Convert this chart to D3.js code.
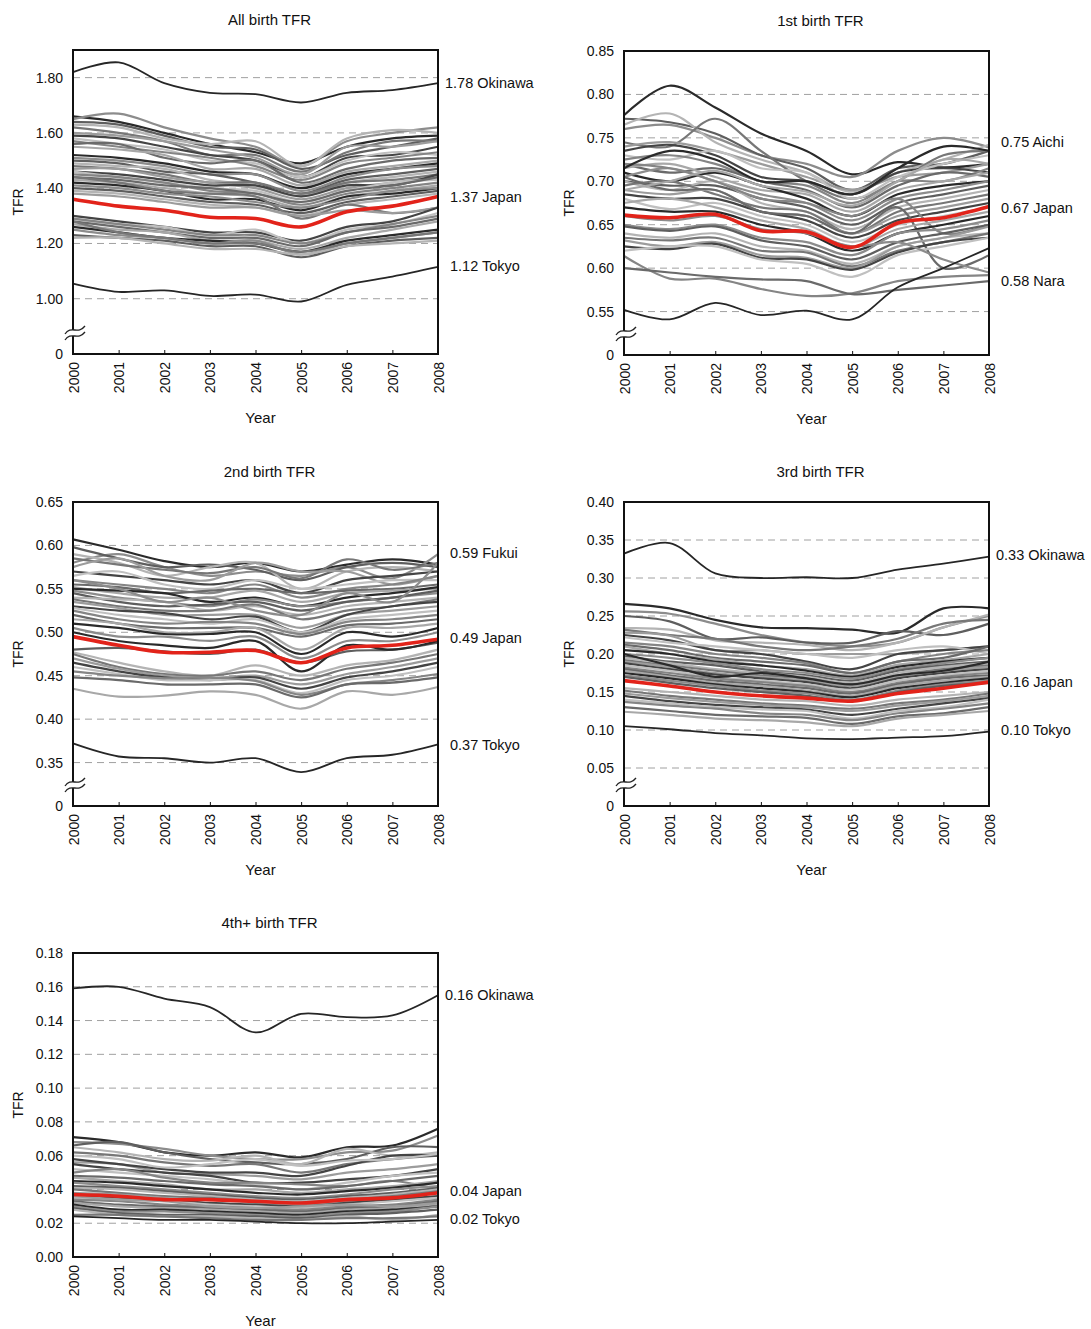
<!DOCTYPE html>
<html>
<head>
<meta charset="utf-8">
<script src="https://cdnjs.cloudflare.com/ajax/libs/d3/7.8.5/d3.min.js"></script>
<style>
body { margin: 0; background: #fff; }
text { font-family: "Liberation Sans", Arial, sans-serif; fill: #111; }
</style>
</head>
<body>
<div id="canvas"></div>
<script>
//Global var.
var width = 1091;
var height = 1329;
var years = [2000, 2001, 2002, 2003, 2004, 2005, 2006, 2007, 2008];

//All birth TFR
var allTitle = "All birth TFR";
var allTicks = [0.8, 1.0, 1.2, 1.4, 1.6, 1.8];
var allTickLabels = ["0", "1.00", "1.20", "1.40", "1.60", "1.80"];
var allJapan = [1.36, 1.335, 1.32, 1.295, 1.29, 1.26, 1.315, 1.335, 1.37];
var allMarked = [
    [1.82, 1.855, 1.78, 1.745, 1.74, 1.71, 1.745, 1.755, 1.78],   // Okinawa
    [1.055, 1.025, 1.03, 1.01, 1.015, 0.99, 1.05, 1.08, 1.115]    // Tokyo
];
var allLabels = ["1.78 Okinawa", "1.37 Japan", "1.12 Tokyo"];
var allLabelAt = [1.78, 1.37, 1.12];
var allPref = [
    [1.66, 1.64, 1.60, 1.56, 1.53, 1.49, 1.55, 1.58, 1.59],
    [1.65, 1.67, 1.62, 1.58, 1.55, 1.48, 1.57, 1.60, 1.62],
    [1.64, 1.63, 1.59, 1.55, 1.54, 1.47, 1.52, 1.55, 1.58],
    [1.63, 1.62, 1.58, 1.56, 1.57, 1.48, 1.58, 1.61, 1.60],
    [1.62, 1.60, 1.57, 1.52, 1.52, 1.46, 1.53, 1.57, 1.57],
    [1.60, 1.59, 1.57, 1.54, 1.51, 1.45, 1.55, 1.55, 1.57],
    [1.59, 1.58, 1.55, 1.52, 1.50, 1.44, 1.51, 1.52, 1.55],
    [1.58, 1.56, 1.54, 1.50, 1.49, 1.44, 1.50, 1.53, 1.52],
    [1.57, 1.55, 1.53, 1.51, 1.48, 1.43, 1.49, 1.51, 1.53],
    [1.56, 1.56, 1.51, 1.49, 1.50, 1.42, 1.47, 1.50, 1.51],
    [1.55, 1.54, 1.52, 1.47, 1.47, 1.41, 1.46, 1.48, 1.50],
    [1.52, 1.51, 1.49, 1.46, 1.45, 1.40, 1.45, 1.47, 1.49],
    [1.51, 1.50, 1.48, 1.45, 1.45, 1.39, 1.44, 1.47, 1.48],
    [1.50, 1.49, 1.46, 1.45, 1.42, 1.38, 1.43, 1.45, 1.47],
    [1.49, 1.48, 1.47, 1.43, 1.41, 1.37, 1.42, 1.44, 1.46],
    [1.48, 1.47, 1.45, 1.42, 1.42, 1.38, 1.42, 1.43, 1.45],
    [1.47, 1.47, 1.44, 1.42, 1.40, 1.36, 1.40, 1.42, 1.44],
    [1.46, 1.45, 1.43, 1.41, 1.41, 1.37, 1.41, 1.41, 1.45],
    [1.46, 1.44, 1.42, 1.40, 1.39, 1.35, 1.39, 1.42, 1.43],
    [1.45, 1.44, 1.42, 1.39, 1.38, 1.34, 1.38, 1.40, 1.42],
    [1.44, 1.43, 1.41, 1.40, 1.38, 1.35, 1.39, 1.41, 1.44],
    [1.43, 1.42, 1.40, 1.38, 1.37, 1.33, 1.37, 1.39, 1.41],
    [1.42, 1.41, 1.39, 1.36, 1.36, 1.32, 1.37, 1.38, 1.40],
    [1.41, 1.40, 1.38, 1.37, 1.35, 1.33, 1.36, 1.39, 1.40],
    [1.40, 1.39, 1.37, 1.35, 1.34, 1.31, 1.35, 1.37, 1.39],
    [1.39, 1.38, 1.36, 1.34, 1.33, 1.30, 1.34, 1.36, 1.38],
    [1.44, 1.42, 1.39, 1.38, 1.37, 1.29, 1.34, 1.31, 1.33],
    [1.38, 1.37, 1.35, 1.33, 1.33, 1.30, 1.32, 1.31, 1.33],
    [1.30, 1.28, 1.26, 1.24, 1.24, 1.21, 1.26, 1.28, 1.33],
    [1.29, 1.27, 1.26, 1.23, 1.25, 1.20, 1.25, 1.27, 1.31],
    [1.29, 1.27, 1.25, 1.23, 1.23, 1.20, 1.24, 1.27, 1.30],
    [1.28, 1.26, 1.24, 1.22, 1.22, 1.19, 1.24, 1.26, 1.29],
    [1.27, 1.25, 1.24, 1.21, 1.21, 1.18, 1.22, 1.25, 1.28],
    [1.26, 1.24, 1.22, 1.21, 1.20, 1.17, 1.21, 1.23, 1.25],
    [1.25, 1.23, 1.22, 1.20, 1.21, 1.16, 1.20, 1.22, 1.24],
    [1.23, 1.22, 1.21, 1.19, 1.19, 1.15, 1.19, 1.21, 1.22],
    [1.22, 1.22, 1.20, 1.18, 1.18, 1.16, 1.19, 1.20, 1.21],
    [1.28, 1.24, 1.22, 1.20, 1.20, 1.17, 1.20, 1.22, 1.24]
];

//1st birth TFR
var firstTitle = "1st birth TFR";
var firstTicks = [0.50, 0.55, 0.60, 0.65, 0.70, 0.75, 0.80, 0.85];
var firstTickLabels = ["0", "0.55", "0.60", "0.65", "0.70", "0.75", "0.80", "0.85"];
var firstJapan = [0.661, 0.658, 0.662, 0.643, 0.642, 0.624, 0.652, 0.658, 0.671];
var firstMarked = [
    [0.552, 0.541, 0.56, 0.546, 0.551, 0.541, 0.578, 0.60, 0.623]
];
var firstLabels = ["0.75 Aichi", "0.67 Japan", "0.58 Nara"];
var firstLabelAt = [0.745, 0.67, 0.585];
var firstPref = [
    [0.776, 0.81, 0.785, 0.755, 0.735, 0.708, 0.722, 0.716, 0.72],
    [0.76, 0.765, 0.75, 0.73, 0.72, 0.705, 0.735, 0.75, 0.739],
    [0.772, 0.768, 0.755, 0.73, 0.715, 0.69, 0.715, 0.72, 0.735],
    [0.765, 0.778, 0.745, 0.725, 0.71, 0.688, 0.71, 0.725, 0.742],
    [0.745, 0.74, 0.772, 0.735, 0.70, 0.68, 0.70, 0.73, 0.735],
    [0.74, 0.745, 0.735, 0.72, 0.705, 0.69, 0.705, 0.71, 0.72],
    [0.735, 0.742, 0.73, 0.705, 0.70, 0.685, 0.71, 0.715, 0.71],
    [0.73, 0.725, 0.735, 0.715, 0.71, 0.68, 0.705, 0.72, 0.73],
    [0.725, 0.73, 0.72, 0.70, 0.695, 0.675, 0.70, 0.70, 0.715],
    [0.72, 0.71, 0.715, 0.70, 0.69, 0.67, 0.695, 0.71, 0.705],
    [0.715, 0.72, 0.705, 0.69, 0.685, 0.665, 0.69, 0.70, 0.71],
    [0.71, 0.70, 0.71, 0.695, 0.68, 0.66, 0.685, 0.695, 0.70],
    [0.705, 0.715, 0.70, 0.685, 0.675, 0.655, 0.68, 0.69, 0.70],
    [0.70, 0.695, 0.695, 0.68, 0.67, 0.65, 0.675, 0.685, 0.695],
    [0.70, 0.69, 0.70, 0.675, 0.665, 0.645, 0.67, 0.68, 0.69],
    [0.695, 0.70, 0.685, 0.67, 0.665, 0.64, 0.665, 0.675, 0.685],
    [0.69, 0.685, 0.69, 0.665, 0.66, 0.64, 0.66, 0.67, 0.68],
    [0.685, 0.68, 0.68, 0.665, 0.655, 0.635, 0.655, 0.665, 0.675],
    [0.68, 0.668, 0.675, 0.66, 0.65, 0.63, 0.65, 0.66, 0.67],
    [0.72, 0.715, 0.70, 0.68, 0.675, 0.66, 0.68, 0.64, 0.65],
    [0.705, 0.69, 0.69, 0.665, 0.66, 0.64, 0.67, 0.60, 0.615],
    [0.675, 0.68, 0.67, 0.655, 0.645, 0.625, 0.645, 0.655, 0.665],
    [0.67, 0.665, 0.665, 0.65, 0.64, 0.62, 0.64, 0.65, 0.66],
    [0.65, 0.645, 0.65, 0.635, 0.63, 0.615, 0.64, 0.645, 0.655],
    [0.648, 0.643, 0.648, 0.632, 0.625, 0.61, 0.63, 0.64, 0.65],
    [0.64, 0.635, 0.64, 0.625, 0.62, 0.605, 0.625, 0.635, 0.64],
    [0.635, 0.632, 0.635, 0.62, 0.618, 0.602, 0.62, 0.63, 0.64],
    [0.632, 0.625, 0.63, 0.615, 0.612, 0.60, 0.625, 0.635, 0.648],
    [0.625, 0.622, 0.628, 0.612, 0.61, 0.598, 0.618, 0.63, 0.635],
    [0.62, 0.625, 0.625, 0.61, 0.605, 0.59, 0.615, 0.625, 0.635],
    [0.614, 0.588, 0.588, 0.576, 0.568, 0.571, 0.585, 0.59, 0.592],
    [0.60, 0.595, 0.59, 0.587, 0.585, 0.57, 0.575, 0.58, 0.585],
    [0.69, 0.70, 0.712, 0.695, 0.688, 0.672, 0.70, 0.725, 0.72],
    [0.715, 0.735, 0.725, 0.70, 0.70, 0.685, 0.715, 0.74, 0.735],
    [0.66, 0.655, 0.66, 0.645, 0.64, 0.625, 0.63, 0.61, 0.595]
];

//2nd birth TFR
var secondTitle = "2nd birth TFR";
var secondTicks = [0.30, 0.35, 0.40, 0.45, 0.50, 0.55, 0.60, 0.65];
var secondTickLabels = ["0", "0.35", "0.40", "0.45", "0.50", "0.55", "0.60", "0.65"];
var secondJapan = [0.495, 0.485, 0.477, 0.477, 0.479, 0.465, 0.482, 0.485, 0.492];
var secondMarked = [
    [0.372, 0.357, 0.355, 0.350, 0.355, 0.339, 0.355, 0.359, 0.371]
];
var secondLabels = ["0.59 Fukui", "0.49 Japan", "0.37 Tokyo"];
var secondLabelAt = [0.592, 0.494, 0.371];
var secondPref = [
    [0.607, 0.595, 0.582, 0.575, 0.58, 0.57, 0.578, 0.584, 0.578],
    [0.58, 0.59, 0.575, 0.565, 0.57, 0.565, 0.575, 0.562, 0.59],
    [0.598, 0.585, 0.575, 0.578, 0.572, 0.56, 0.575, 0.58, 0.575],
    [0.59, 0.58, 0.565, 0.575, 0.58, 0.55, 0.57, 0.575, 0.57],
    [0.585, 0.578, 0.572, 0.568, 0.575, 0.562, 0.584, 0.572, 0.58],
    [0.575, 0.585, 0.565, 0.56, 0.58, 0.57, 0.57, 0.555, 0.565],
    [0.57, 0.565, 0.56, 0.555, 0.56, 0.545, 0.56, 0.565, 0.57],
    [0.565, 0.57, 0.555, 0.55, 0.56, 0.55, 0.555, 0.56, 0.56],
    [0.56, 0.555, 0.55, 0.545, 0.555, 0.54, 0.55, 0.555, 0.565],
    [0.555, 0.552, 0.545, 0.548, 0.55, 0.545, 0.548, 0.55, 0.555],
    [0.552, 0.545, 0.54, 0.54, 0.548, 0.535, 0.545, 0.548, 0.55],
    [0.55, 0.548, 0.545, 0.535, 0.54, 0.53, 0.54, 0.545, 0.552],
    [0.548, 0.54, 0.535, 0.53, 0.538, 0.53, 0.535, 0.54, 0.545],
    [0.545, 0.535, 0.53, 0.532, 0.535, 0.525, 0.535, 0.54, 0.548],
    [0.54, 0.538, 0.535, 0.525, 0.53, 0.52, 0.53, 0.535, 0.54],
    [0.538, 0.53, 0.525, 0.525, 0.532, 0.515, 0.525, 0.53, 0.538],
    [0.535, 0.528, 0.52, 0.52, 0.52, 0.505, 0.52, 0.525, 0.53],
    [0.53, 0.525, 0.522, 0.515, 0.518, 0.50, 0.52, 0.53, 0.535],
    [0.528, 0.52, 0.515, 0.51, 0.515, 0.50, 0.515, 0.52, 0.525],
    [0.525, 0.515, 0.51, 0.512, 0.51, 0.498, 0.512, 0.515, 0.52],
    [0.52, 0.51, 0.505, 0.505, 0.505, 0.495, 0.508, 0.51, 0.515],
    [0.515, 0.51, 0.50, 0.50, 0.505, 0.48, 0.505, 0.505, 0.51],
    [0.51, 0.505, 0.498, 0.498, 0.50, 0.475, 0.50, 0.495, 0.505],
    [0.505, 0.495, 0.495, 0.49, 0.495, 0.47, 0.49, 0.49, 0.50],
    [0.48, 0.482, 0.478, 0.475, 0.48, 0.465, 0.478, 0.48, 0.488],
    [0.477, 0.465, 0.455, 0.45, 0.462, 0.45, 0.462, 0.468, 0.48],
    [0.475, 0.46, 0.452, 0.45, 0.455, 0.445, 0.458, 0.465, 0.475],
    [0.47, 0.458, 0.45, 0.447, 0.45, 0.44, 0.452, 0.46, 0.47],
    [0.465, 0.455, 0.448, 0.445, 0.448, 0.435, 0.448, 0.455, 0.465],
    [0.46, 0.452, 0.445, 0.445, 0.445, 0.43, 0.445, 0.45, 0.46],
    [0.455, 0.45, 0.447, 0.448, 0.444, 0.428, 0.44, 0.445, 0.452],
    [0.448, 0.445, 0.44, 0.44, 0.44, 0.425, 0.44, 0.442, 0.448],
    [0.435, 0.426, 0.427, 0.432, 0.428, 0.412, 0.432, 0.428, 0.437],
    [0.50, 0.49, 0.485, 0.482, 0.49, 0.455, 0.485, 0.48, 0.49],
    [0.56, 0.55, 0.535, 0.54, 0.525, 0.52, 0.545, 0.535, 0.58]
];

//3rd birth TFR
var thirdTitle = "3rd birth TFR";
var thirdTicks = [0, 0.05, 0.10, 0.15, 0.20, 0.25, 0.30, 0.35, 0.40];
var thirdTickLabels = ["0", "0.05", "0.10", "0.15", "0.20", "0.25", "0.30", "0.35", "0.40"];
var thirdJapan = [0.165, 0.158, 0.150, 0.145, 0.142, 0.138, 0.148, 0.155, 0.163];
var thirdMarked = [
    [0.332, 0.346, 0.306, 0.300, 0.301, 0.300, 0.311, 0.319, 0.328],  // Okinawa
    [0.105, 0.101, 0.096, 0.093, 0.089, 0.088, 0.090, 0.092, 0.098]   // Tokyo
];
var thirdLabels = ["0.33 Okinawa", "0.16 Japan", "0.10 Tokyo"];
var thirdLabelAt = [0.330, 0.163, 0.100];
var thirdPref = [
    [0.266, 0.26, 0.245, 0.235, 0.234, 0.232, 0.228, 0.26, 0.26],
    [0.256, 0.253, 0.24, 0.225, 0.215, 0.21, 0.215, 0.235, 0.25],
    [0.25, 0.243, 0.22, 0.222, 0.215, 0.215, 0.23, 0.225, 0.24],
    [0.234, 0.232, 0.218, 0.215, 0.212, 0.205, 0.215, 0.235, 0.252],
    [0.232, 0.225, 0.22, 0.21, 0.205, 0.21, 0.22, 0.24, 0.245],
    [0.228, 0.224, 0.205, 0.205, 0.20, 0.20, 0.20, 0.205, 0.21],
    [0.225, 0.218, 0.205, 0.20, 0.19, 0.18, 0.20, 0.205, 0.21],
    [0.222, 0.215, 0.21, 0.205, 0.20, 0.195, 0.205, 0.21, 0.20],
    [0.215, 0.21, 0.20, 0.195, 0.188, 0.175, 0.19, 0.20, 0.205],
    [0.212, 0.205, 0.195, 0.19, 0.185, 0.175, 0.19, 0.195, 0.21],
    [0.21, 0.20, 0.193, 0.185, 0.18, 0.172, 0.186, 0.192, 0.20],
    [0.205, 0.20, 0.19, 0.185, 0.178, 0.17, 0.183, 0.19, 0.195],
    [0.20, 0.195, 0.188, 0.18, 0.175, 0.168, 0.18, 0.188, 0.195],
    [0.197, 0.19, 0.185, 0.177, 0.172, 0.165, 0.178, 0.185, 0.19],
    [0.195, 0.188, 0.18, 0.175, 0.17, 0.162, 0.175, 0.183, 0.188],
    [0.192, 0.185, 0.178, 0.172, 0.168, 0.16, 0.172, 0.18, 0.185],
    [0.19, 0.183, 0.175, 0.17, 0.165, 0.158, 0.17, 0.178, 0.183],
    [0.188, 0.18, 0.173, 0.168, 0.163, 0.155, 0.168, 0.175, 0.18],
    [0.185, 0.178, 0.17, 0.165, 0.16, 0.153, 0.165, 0.172, 0.178],
    [0.182, 0.175, 0.168, 0.163, 0.158, 0.15, 0.162, 0.17, 0.175],
    [0.18, 0.172, 0.165, 0.16, 0.155, 0.148, 0.16, 0.168, 0.172],
    [0.178, 0.17, 0.162, 0.158, 0.152, 0.145, 0.158, 0.165, 0.17],
    [0.175, 0.168, 0.16, 0.155, 0.15, 0.143, 0.155, 0.162, 0.168],
    [0.172, 0.165, 0.158, 0.152, 0.148, 0.14, 0.152, 0.16, 0.165],
    [0.17, 0.162, 0.155, 0.15, 0.145, 0.138, 0.15, 0.158, 0.162],
    [0.155, 0.15, 0.145, 0.14, 0.138, 0.132, 0.14, 0.145, 0.15],
    [0.152, 0.145, 0.14, 0.135, 0.132, 0.128, 0.135, 0.14, 0.148],
    [0.148, 0.142, 0.137, 0.133, 0.13, 0.125, 0.132, 0.138, 0.145],
    [0.145, 0.138, 0.133, 0.13, 0.127, 0.12, 0.128, 0.135, 0.142],
    [0.14, 0.135, 0.13, 0.127, 0.125, 0.115, 0.125, 0.13, 0.14],
    [0.137, 0.132, 0.128, 0.122, 0.12, 0.113, 0.122, 0.128, 0.135],
    [0.13, 0.125, 0.12, 0.118, 0.116, 0.108, 0.118, 0.122, 0.13],
    [0.124, 0.12, 0.115, 0.113, 0.11, 0.105, 0.115, 0.12, 0.125],
    [0.20, 0.185, 0.17, 0.175, 0.168, 0.16, 0.172, 0.178, 0.19]
];

//4th+ birth TFR
var fourthTitle = "4th+ birth TFR";
var fourthTicks = [0, 0.02, 0.04, 0.06, 0.08, 0.10, 0.12, 0.14, 0.16, 0.18];
var fourthTickLabels = ["0.00", "0.02", "0.04", "0.06", "0.08", "0.10", "0.12", "0.14", "0.16", "0.18"];
var fourthJapan = [0.037, 0.036, 0.034, 0.034, 0.033, 0.032, 0.034, 0.035, 0.038];
var fourthMarked = [
    [0.159, 0.160, 0.153, 0.148, 0.133, 0.144, 0.142, 0.143, 0.155],  // Okinawa
    [0.024, 0.023, 0.022, 0.022, 0.021, 0.020, 0.020, 0.021, 0.022]   // Tokyo
];
var fourthLabels = ["0.16 Okinawa", "0.04 Japan", "0.02 Tokyo"];
var fourthLabelAt = [0.155, 0.039, 0.0225];
var fourthPref = [
    [0.071, 0.068, 0.062, 0.06, 0.062, 0.059, 0.065, 0.066, 0.076],
    [0.068, 0.067, 0.064, 0.06, 0.058, 0.058, 0.062, 0.063, 0.072],
    [0.066, 0.068, 0.062, 0.058, 0.056, 0.055, 0.058, 0.065, 0.065],
    [0.065, 0.062, 0.058, 0.057, 0.06, 0.055, 0.064, 0.06, 0.062],
    [0.062, 0.06, 0.056, 0.054, 0.055, 0.05, 0.055, 0.058, 0.06],
    [0.056, 0.055, 0.05, 0.049, 0.048, 0.046, 0.05, 0.052, 0.055],
    [0.055, 0.052, 0.05, 0.048, 0.044, 0.044, 0.046, 0.048, 0.052],
    [0.052, 0.05, 0.048, 0.046, 0.043, 0.04, 0.044, 0.048, 0.05],
    [0.05, 0.052, 0.047, 0.044, 0.044, 0.043, 0.042, 0.045, 0.04],
    [0.048, 0.047, 0.045, 0.043, 0.042, 0.04, 0.042, 0.045, 0.048],
    [0.047, 0.045, 0.043, 0.04, 0.04, 0.038, 0.04, 0.042, 0.045],
    [0.045, 0.044, 0.042, 0.04, 0.038, 0.037, 0.039, 0.041, 0.044],
    [0.044, 0.042, 0.04, 0.038, 0.036, 0.035, 0.037, 0.04, 0.042],
    [0.042, 0.041, 0.039, 0.037, 0.035, 0.034, 0.036, 0.038, 0.041],
    [0.041, 0.04, 0.038, 0.036, 0.034, 0.033, 0.035, 0.037, 0.04],
    [0.04, 0.038, 0.036, 0.035, 0.033, 0.032, 0.034, 0.036, 0.039],
    [0.038, 0.037, 0.035, 0.034, 0.032, 0.031, 0.033, 0.035, 0.038],
    [0.036, 0.035, 0.034, 0.032, 0.031, 0.03, 0.032, 0.034, 0.036],
    [0.035, 0.034, 0.033, 0.031, 0.03, 0.029, 0.031, 0.033, 0.035],
    [0.034, 0.033, 0.031, 0.03, 0.029, 0.028, 0.03, 0.031, 0.034],
    [0.033, 0.031, 0.03, 0.029, 0.028, 0.027, 0.029, 0.03, 0.033],
    [0.032, 0.03, 0.029, 0.028, 0.027, 0.026, 0.028, 0.029, 0.031],
    [0.031, 0.028, 0.028, 0.027, 0.026, 0.025, 0.027, 0.028, 0.03],
    [0.03, 0.027, 0.027, 0.026, 0.025, 0.024, 0.026, 0.027, 0.03],
    [0.029, 0.026, 0.025, 0.025, 0.024, 0.023, 0.025, 0.026, 0.028],
    [0.028, 0.025, 0.024, 0.024, 0.023, 0.022, 0.024, 0.022, 0.025],
    [0.025, 0.025, 0.024, 0.023, 0.022, 0.022, 0.023, 0.023, 0.024],
    [0.036, 0.034, 0.033, 0.03, 0.029, 0.03, 0.031, 0.03, 0.032],
    [0.058, 0.055, 0.052, 0.05, 0.05, 0.048, 0.054, 0.06, 0.06],
    [0.06, 0.058, 0.053, 0.055, 0.058, 0.054, 0.057, 0.058, 0.061]
];

//グレーの濃淡
var greys = ["#2a2a2a", "#8c8c8c", "#5e5e5e", "#b4b4b4", "#777777", "#9c9c9c", "#444444", "#c0c0c0", "#858585", "#6a6a6a", "#a8a8a8"];

//パネル配置
var plotW = 365;
var plotH = 304;
var panels = [
    {title: allTitle, ticks: allTicks, tickLabels: allTickLabels, japan: allJapan, marked: allMarked,
     pref: allPref, labels: allLabels, labelAt: allLabelAt, left: 73, top: 50, brk: true},
    {title: firstTitle, ticks: firstTicks, tickLabels: firstTickLabels, japan: firstJapan, marked: firstMarked,
     pref: firstPref, labels: firstLabels, labelAt: firstLabelAt, left: 624, top: 51, brk: true},
    {title: secondTitle, ticks: secondTicks, tickLabels: secondTickLabels, japan: secondJapan, marked: secondMarked,
     pref: secondPref, labels: secondLabels, labelAt: secondLabelAt, left: 73, top: 502, brk: true},
    {title: thirdTitle, ticks: thirdTicks, tickLabels: thirdTickLabels, japan: thirdJapan, marked: thirdMarked,
     pref: thirdPref, labels: thirdLabels, labelAt: thirdLabelAt, left: 624, top: 502, brk: true},
    {title: fourthTitle, ticks: fourthTicks, tickLabels: fourthTickLabels, japan: fourthJapan, marked: fourthMarked,
     pref: fourthPref, labels: fourthLabels, labelAt: fourthLabelAt, left: 73, top: 953, brk: false}
];

var canvas = d3.select("div#canvas").append("svg")
    .attr("width", width)
    .attr("height", height);

panels.forEach(drawPanel);

function drawPanel(p) {
    var g = canvas.append("g")
        .attr("transform", "translate(" + [p.left, p.top] + ")");

    var x = d3.scaleLinear().domain([2000, 2008]).range([0, plotW]);
    var y = d3.scaleLinear()
        .domain([p.ticks[0], p.title == allTitle ? 1.9 : p.ticks[p.ticks.length - 1]])
        .range([plotH, 0]);

    var line = d3.line()
        .x(function(d, i){ return x(years[i]); })
        .y(function(d){ return y(d); })
        .curve(d3.curveCatmullRom.alpha(0.5));

    //点線
    var gridVals = p.ticks.filter(function(t){ return t > p.ticks[0] && t < y.domain()[1] - 1e-9; });
    g.selectAll("line.grid")
        .data(gridVals)
        .enter().append("line")
        .attr("class", "grid")
        .attr("x1", 0).attr("x2", plotW)
        .attr("y1", function(d){ return y(d); })
        .attr("y2", function(d){ return y(d); })
        .attr("stroke", "#a0a0a0")
        .attr("stroke-width", 1)
        .attr("stroke-dasharray", "7,5");

    //都道府県
    g.selectAll("path.pref")
        .data(p.pref)
        .enter().append("path")
        .attr("class", "pref")
        .attr("d", line)
        .attr("fill", "none")
        .attr("stroke", function(d, i){ return greys[i % greys.length]; })
        .attr("stroke-width", 2.2);

    g.selectAll("path.marked")
        .data(p.marked)
        .enter().append("path")
        .attr("class", "marked")
        .attr("d", line)
        .attr("fill", "none")
        .attr("stroke", "#262626")
        .attr("stroke-width", 1.8);

    //全国
    g.append("path")
        .attr("d", line(p.japan))
        .attr("fill", "none")
        .attr("stroke", "#e2231a")
        .attr("stroke-width", 3.6);

    //枠
    g.append("rect")
        .attr("width", plotW)
        .attr("height", plotH)
        .attr("fill", "none")
        .attr("stroke", "#111")
        .attr("stroke-width", 2);

    //X軸
    var xa = g.append("g")
        .attr("transform", "translate(0," + plotH + ")")
        .call(d3.axisBottom(x).tickValues(years).tickFormat(d3.format("d"))
            .tickSizeInner(-4).tickSizeOuter(0));
    xa.select(".domain").remove();
    xa.selectAll(".tick line").attr("stroke", "#111");
    xa.selectAll("text")
        .attr("transform", "rotate(-90)")
        .attr("x", -8)
        .attr("y", 0)
        .attr("dy", "0.36em")
        .style("text-anchor", "end")
        .style("font-size", "14px");

    //Y軸
    var ya = g.append("g")
        .call(d3.axisLeft(y).tickValues(p.ticks)
            .tickFormat(function(d, i){ return p.tickLabels[i]; })
            .tickSize(0).tickPadding(10));
    ya.select(".domain").remove();
    ya.selectAll("text").style("font-size", "14px");

    //省略記号
    if (p.brk) {
        var b = g.append("g").attr("transform", "translate(" + [2, plotH - 22] + ")");
        b.append("path")
            .attr("d", "M-10,2 C-4,-7 3,3 10,-6 L10,0 C3,9 -4,-1 -10,8 Z")
            .attr("fill", "#fff")
            .attr("stroke", "none");
        b.append("path")
            .attr("d", "M-10,2 C-4,-7 3,3 10,-6 M10,0 C3,9 -4,-1 -10,8")
            .attr("fill", "none")
            .attr("stroke", "#222")
            .attr("stroke-width", 1.3);
    }

    //タイトル
    g.append("text")
        .attr("x", plotW / 2 + 14)
        .attr("y", -25)
        .style("text-anchor", "middle")
        .style("font-size", "15px")
        .text(p.title);

    g.append("text")
        .attr("transform", "translate(-55," + (plotH / 2) + ")rotate(-90)")
        .attr("dy", "0.36em")
        .style("text-anchor", "middle")
        .style("font-size", "14px")
        .text("TFR");

    g.append("text")
        .attr("x", plotW / 2 + 5)
        .attr("y", plotH + 69)
        .style("text-anchor", "middle")
        .style("font-size", "15px")
        .text("Year");

    //右ラベル
    g.selectAll("text.lab")
        .data(p.labels)
        .enter().append("text")
        .attr("class", "lab")
        .attr("x", function(d){ return plotW + (d.indexOf("Okinawa") >= 0 ? 7 : 12); })
        .attr("y", function(d, i){ return y(p.labelAt[i]); })
        .attr("dy", "0.36em")
        .style("font-size", "14.5px")
        .text(function(d){ return d; });
}
</script>
</body>
</html>
